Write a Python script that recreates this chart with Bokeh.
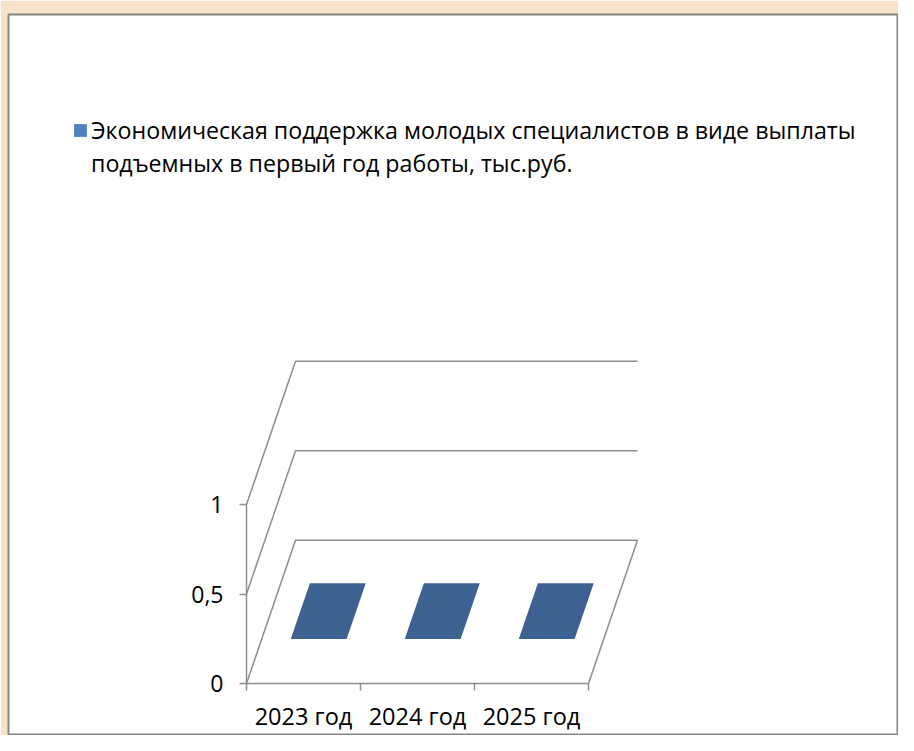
import numpy as np
from bokeh.plotting import figure
from bokeh.models import Range1d, LinearAxis, FixedTicker, Legend, LegendItem
from bokeh.embed import file_html
from bokeh.resources import INLINE

# ---------------- data ----------------
categories = ["2023 год", "2024 год", "2025 год"]
values = [0, 0, 0]
y_ticks = [0, 0.5, 1]
y_tick_labels = ["0", "0,5", "1"]
series_name_lines = ["Экономическая поддержка молодых специалистов в виде выплаты",
                     "подъемных в первый год работы, тыс.руб."]

# ---------------- layout / style ----------------
W, H = 898, 735
TOP, LEFT = 14, 8
FW, FH = W - LEFT, H - TOP
PX_X = 114.0     # pixels per category
PX_Y = 179.0     # pixels per value unit
X0_PX = 238.0    # frame px (from left) of x = 0
Y0_PX = 669.0    # frame px (from top) of y = 0
KX = 0.43        # depth offset (category units)
KY = 0.80        # depth offset (value units)
BAR_W = 0.49
D0, D1 = 0.31, 0.70
GRAY = "#8E8E8E"
FONT = "Open Sans"

x_range = Range1d(-X0_PX / PX_X, (FW - X0_PX) / PX_X)
y_range = Range1d(-(FH - Y0_PX) / PX_Y, Y0_PX / PX_Y)

p = figure(width=W, height=H, x_range=x_range, y_range=y_range,
           output_backend="svg", toolbar_location=None,
           x_axis_location=None, y_axis_location=None,
           min_border_left=LEFT, min_border_right=0, min_border_bottom=0,
           min_border_top=TOP, background_fill_color="white",
           border_fill_color="#F9E2CB", outline_line_color="#858585",
           outline_line_width=2)
p.xgrid.visible = False
p.ygrid.visible = False

n = len(categories)
idx = np.arange(n)

# walls / gridlines (side wall diagonal + back wall horizontal)
gx = [[0, KX, n + KX] for v in y_ticks]
gy = [[v, v + KY, v + KY] for v in y_ticks]
p.multi_line(gx, gy, line_color=GRAY, line_width=1.5)
# floor right edge
p.line([n, n + KX], [0, KY], line_color=GRAY, line_width=1.5)

# bars (3D columns, oblique projection)
v = np.array(values, dtype=float)
lft = idx + (1 - BAR_W) / 2
rgt = lft + BAR_W

front = p.quad(left=lft + D0 * KX, right=rgt + D0 * KX,
               bottom=np.zeros(n) + D0 * KY, top=v + D0 * KY,
               fill_color="#4F81BD", line_color=None)
side_xs = [[r + D0 * KX, r + D1 * KX, r + D1 * KX, r + D0 * KX] for r in rgt]
side_ys = [[D0 * KY, D1 * KY, vv + D1 * KY, vv + D0 * KY] for vv in v]
p.patches(side_xs, side_ys, fill_color="#3A5F8C", line_color=None)
top_xs = [[l + D0 * KX, r + D0 * KX, r + D1 * KX, l + D1 * KX] for l, r in zip(lft, rgt)]
top_ys = [[vv + D0 * KY, vv + D0 * KY, vv + D1 * KY, vv + D1 * KY] for vv in v]
p.patches(top_xs, top_ys, fill_color="#3D6291", line_color=None)
# transparent twin used for the wrapped second line of the legend label
twin = p.quad(left=lft + D0 * KX, right=rgt + D0 * KX,
              bottom=np.zeros(n) + D0 * KY, top=v + D0 * KY,
              fill_alpha=0, line_alpha=0)

# axes
xaxis = LinearAxis(fixed_location=0, bounds=(0, n),
                   ticker=FixedTicker(ticks=[float(i) + 0.5 for i in idx],
                                      minor_ticks=[float(i) for i in range(n + 1)]),
                   major_label_overrides={float(i) + 0.5: c for i, c in zip(idx, categories)})
xaxis.axis_line_color = GRAY
xaxis.axis_line_width = 1.5
xaxis.major_tick_line_color = None
xaxis.major_tick_out = 7
xaxis.major_tick_in = 0
xaxis.minor_tick_line_color = GRAY
xaxis.minor_tick_line_width = 1.5
xaxis.minor_tick_out = 7
xaxis.minor_tick_in = 0
xaxis.major_label_standoff = 9
xaxis.major_label_text_font = FONT
xaxis.major_label_text_font_size = "23.5px"
xaxis.major_label_text_color = "black"
p.add_layout(xaxis, "below")

yaxis = LinearAxis(fixed_location=0, bounds=(0, 1),
                   ticker=FixedTicker(ticks=y_ticks),
                   major_label_overrides=dict(zip(y_ticks, y_tick_labels)))
yaxis.axis_line_color = GRAY
yaxis.axis_line_width = 1.5
yaxis.major_tick_line_color = GRAY
yaxis.major_tick_line_width = 1.5
yaxis.major_tick_out = 7
yaxis.major_tick_in = 0
yaxis.minor_tick_line_color = None
yaxis.major_label_standoff = 16
yaxis.major_label_text_font = FONT
yaxis.major_label_text_font_size = "23px"
yaxis.major_label_text_color = "black"
p.add_layout(yaxis, "left")

legend = Legend(items=[LegendItem(label=series_name_lines[0], renderers=[front]),
                       LegendItem(label=series_name_lines[1], renderers=[twin])],
                location=(64, 556), padding=0, margin=0, spacing=0,
                border_line_color=None, background_fill_alpha=0,
                glyph_width=16, glyph_height=16, label_standoff=3,
                label_height=33,
                label_text_font=FONT, label_text_font_size="23.2px",
                label_text_color="black")
p.add_layout(legend, "center")

open("out.html", "w").write(file_html(p, INLINE))
